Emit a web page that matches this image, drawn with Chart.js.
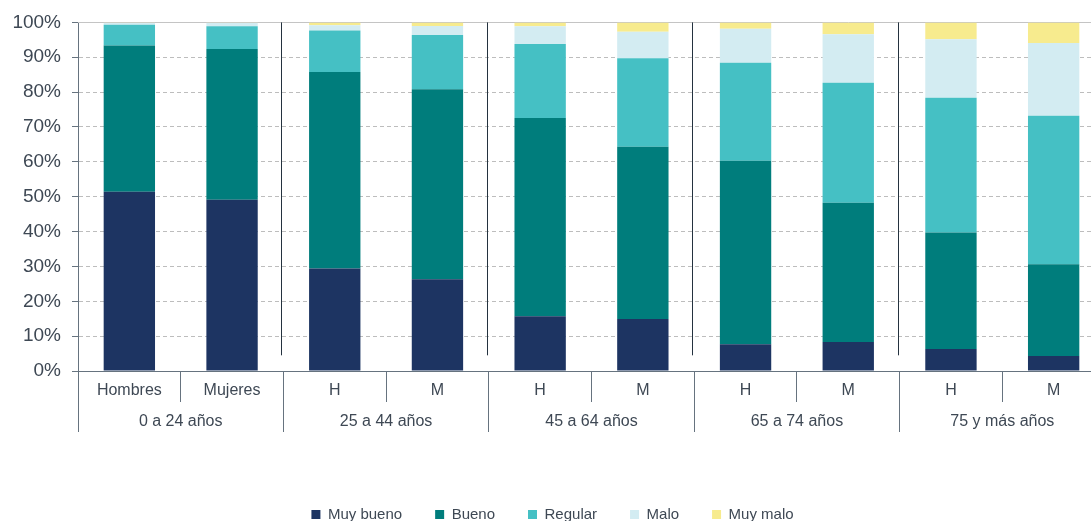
<!DOCTYPE html>
<html>
<head>
<meta charset="utf-8">
<script src="https://cdn.jsdelivr.net/npm/chart.js@4/dist/chart.umd.min.js"></script>
<style>
  html, body { margin: 0; padding: 0; background: #fff; overflow: hidden; }
  #wrap { width: 1105px; height: 532px; }
</style>
</head>
<body>
<div id="wrap"><canvas id="chart"></canvas></div>
<script>
// categories (two levels on the x axis)
const sexLabels = ["Hombres", "Mujeres", "H", "M", "H", "M", "H", "M", "H", "M"];
const groupLabels = ["0 a 24 años", "25 a 44 años", "45 a 64 años", "65 a 74 años", "75 y más años"];

// series, % of each bar
const muyBueno = [51.4, 49.1, 29.4, 26.3, 15.7, 14.9, 7.7, 8.3, 6.3, 4.3];
const bueno    = [42.0, 43.3, 56.4, 54.5, 56.9, 49.4, 52.6, 40.0, 33.4, 26.3];
const regular  = [5.9, 6.5, 11.9, 15.6, 21.2, 25.4, 28.1, 34.4, 38.7, 42.6];
const malo     = [0.6, 1.0, 1.5, 2.6, 5.1, 7.6, 9.8, 13.9, 16.8, 20.9];
const muyMalo  = [0.1, 0.1, 0.8, 1.0, 1.1, 2.7, 1.8, 3.4, 4.8, 5.9];

const yTicks = [0, 10, 20, 30, 40, 50, 60, 70, 80, 90, 100];

const textColor = "#3e4854";
const axisColor = "#66737f";
const font = "Liberation Sans, Arial, sans-serif";

// solid top line + dark separators between age groups
const groupLines = {
    id: "groupLines",
    beforeDatasetsDraw(chart) {
        const { ctx, chartArea, scales } = chart;
        const x2 = scales.x2, y = scales.y;
        ctx.save();
        ctx.lineWidth = 1;
        ctx.strokeStyle = "#c4c4c4";
        ctx.beginPath();
        ctx.moveTo(chartArea.left, Math.round(y.getPixelForValue(100)) + 0.5);
        ctx.lineTo(chartArea.right, Math.round(y.getPixelForValue(100)) + 0.5);
        ctx.stroke();
        ctx.strokeStyle = "#24323f";
        ctx.beginPath();
        for (let i = 1; i < groupLabels.length; i++) {
            const px = Math.round((x2.getPixelForTick(i - 1) + x2.getPixelForTick(i)) / 2) - 1.5;
            ctx.moveTo(px, y.getPixelForValue(100));
            ctx.lineTo(px, y.getPixelForValue(4.5));
        }
        ctx.stroke();
        ctx.restore();
    },
};

const mk = (label, data, color) => ({
    label, data, backgroundColor: color, borderWidth: 0,
    categoryPercentage: 1, barPercentage: 0.5, xAxisID: "x",
});

new Chart(document.getElementById("chart"), {
    type: "bar",
    data: {
        labels: sexLabels,
        datasets: [
            mk("Muy bueno", muyBueno, "#1d3462"),
            mk("Bueno", bueno, "#007d7c"),
            mk("Regular", regular, "#45c0c4"),
            mk("Malo", malo, "#d3ecf2"),
            mk("Muy malo", muyMalo, "#f7eb8e"),
        ],
    },
    options: {
        responsive: true,
        maintainAspectRatio: false,
        animation: false,
        layout: { padding: { top: 20, left: 0, right: 0, bottom: 0 } },
        plugins: {
            tooltip: { enabled: false },
            legend: {
                position: "bottom",
                labels: {
                    boxWidth: 9, boxHeight: 9, padding: 33,
                    color: textColor,
                    font: { family: font, size: 15 },
                },
            },
        },
        scales: {
            x: {
                stacked: true,
                position: "bottom",
                grid: {
                    offset: true, drawOnChartArea: false, drawTicks: true,
                    tickLength: 31, color: axisColor, tickColor: axisColor,
                },
                border: { display: true, color: axisColor, width: 1 },
                ticks: {
                    color: textColor, padding: -21, maxRotation: 0, autoSkip: false,
                    font: { family: font, size: 16 },
                },
                afterFit(s) { s.height = 31; },
            },
            x2: {
                type: "category",
                labels: groupLabels,
                position: "bottom",
                grid: {
                    offset: true, drawOnChartArea: false, drawTicks: true,
                    tickLength: 30, color: axisColor, tickColor: axisColor,
                },
                border: { display: false },
                ticks: {
                    color: textColor, padding: -20, maxRotation: 0, autoSkip: false,
                    font: { family: font, size: 16 },
                },
                afterFit(s) { s.height = 72; },
            },
            y: {
                stacked: true,
                min: 0, max: 100,
                afterBuildTicks(s) { s.ticks = yTicks.map(v => ({ value: v })); },
                grid: {
                    color: "#bdbdbd", lineWidth: 1,
                    drawTicks: true, tickLength: 6, tickColor: axisColor,
                },
                border: { display: true, color: axisColor, dash: [4, 3] },
                ticks: {
                    color: textColor, padding: 11,
                    font: { family: font, size: 19 },
                    callback: v => v + "%",
                },
                afterFit(s) { s.width = 78; },
            },
        },
    },
    plugins: [groupLines],
});
</script>
</body>
</html>
